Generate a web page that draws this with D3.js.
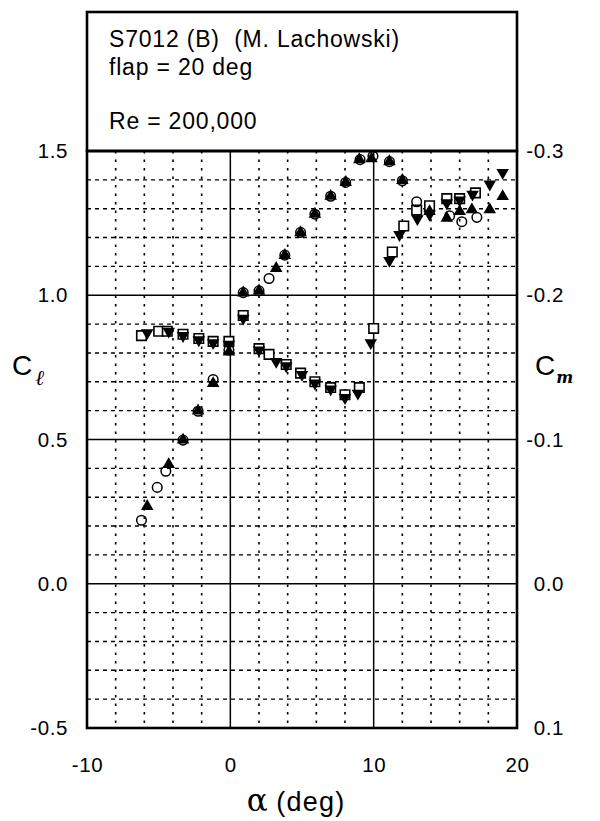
<!DOCTYPE html>
<html><head><meta charset="utf-8">
<script src="https://cdn.jsdelivr.net/npm/d3@7"></script>
<style>body{margin:0;background:#fff}</style>
</head><body>
<svg id="c" width="600" height="821"></svg>
<script>
// ---- data ----
const titleLines = ["S7012 (B)  (M. Lachowski)", "flap = 20 deg", "Re = 200,000"];
const xTicks = [-10, 0, 10, 20];
const clTicks = [-0.5, 0.0, 0.5, 1.0, 1.5];
const cmTicks = [0.1, 0.0, -0.1, -0.2, -0.3];
// Cl, open circles
const clCircAlpha = [-6.2,-5.1,-4.5,-3.3,-2.25,-1.2,-0.1,0.9,2.0,2.7,3.8,4.9,5.9,7.0,8.05,9.05,9.95,11.1,12.0,13.0,15.3,16.15,17.2];
const clCircVal   = [0.22,0.334,0.39,0.498,0.598,0.708,0.81,1.009,1.015,1.058,1.139,1.218,1.281,1.343,1.391,1.47,1.482,1.463,1.397,1.324,1.275,1.255,1.27];
// Cl, filled up-triangles
const clTriAlpha = [-5.8,-4.3,-3.3,-2.25,-1.2,-0.1,0.9,2.0,3.2,3.8,4.9,5.9,7.0,8.05,9.0,9.85,11.1,12.0,13.9,15.1,16.0,16.85,18.1,19.0];
const clTriVal   = [0.265,0.41,0.495,0.596,0.691,0.80,1.005,1.012,1.09,1.135,1.214,1.278,1.34,1.388,1.467,1.47,1.46,1.395,1.287,1.264,1.287,1.293,1.293,1.339];
// Cm, open squares
const cmSqAlpha = [-6.2,-5.0,-4.4,-3.3,-2.2,-1.2,-0.1,0.9,2.0,2.7,3.9,4.9,5.9,7.0,8.0,9.0,10.0,11.3,12.1,13.0,13.9,15.1,16.0,17.1];
const cmSqVal   = [-0.172,-0.175,-0.175,-0.173,-0.170,-0.168,-0.168,-0.186,-0.163,-0.159,-0.152,-0.146,-0.140,-0.136,-0.131,-0.136,-0.177,-0.230,-0.248,-0.259,-0.262,-0.267,-0.267,-0.271];
// Cm, filled down-triangles
const cmTriAlpha = [-5.8,-4.3,-3.3,-2.2,-1.2,-0.1,0.9,2.0,3.2,3.9,5.0,5.9,7.0,8.0,8.9,9.8,11.1,11.8,13.05,13.9,15.1,16.0,16.9,18.1,19.0];
const cmTriVal   = [-0.174,-0.175,-0.172,-0.169,-0.167,-0.166,-0.184,-0.162,-0.154,-0.151,-0.145,-0.139,-0.135,-0.129,-0.132,-0.167,-0.224,-0.242,-0.253,-0.256,-0.264,-0.266,-0.270,-0.277,-0.285];

// ---- layout ----
const L = 87, R = 517, T = 151, B = 728, boxTop = 12;
const FONT = "'Liberation Sans', Arial, sans-serif";
const svg = d3.select("#c");
const x = d3.scaleLinear().domain([-10, 20]).range([L, R]);
const y = d3.scaleLinear().domain([-0.5, 1.5]).range([B, T]);
const y2 = d3.scaleLinear().domain([0.1, -0.3]).range([B, T]);
const hy = s => s.replace("\u2212", "-");

// grid
const g = svg.append("g");
d3.range(-8, 20, 2).forEach(v => {
  if (v === 0 || v === 10) return;
  g.append("line").attr("x1", x(v)).attr("x2", x(v)).attr("y1", T).attr("y2", B)
    .attr("stroke", "#000").attr("stroke-width", 1.6).attr("stroke-dasharray", "2.5,6");
});
d3.range(-4, 15, 1).forEach(k => {
  if (k % 5 === 0) return;
  const v = k / 10;
  g.append("line").attr("x1", L).attr("x2", R).attr("y1", y(v)).attr("y2", y(v))
    .attr("stroke", "#000").attr("stroke-width", 1.4).attr("stroke-dasharray", "4,4");
});
[0, 10].forEach(v => g.append("line").attr("x1", x(v)).attr("x2", x(v)).attr("y1", T).attr("y2", B)
  .attr("stroke", "#000").attr("stroke-width", 1.5));
[0, 0.5, 1.0].forEach(v => g.append("line").attr("x1", L).attr("x2", R).attr("y1", y(v)).attr("y2", y(v))
  .attr("stroke", "#000").attr("stroke-width", 1.5));

// axes (labels only, using d3 axes)
const ax = svg.append("g").attr("transform", `translate(0,${B})`)
  .call(d3.axisBottom(x).tickValues(xTicks).tickSize(0).tickPadding(29).tickFormat(d => hy(d3.format("d")(d))));
const ayl = svg.append("g").attr("transform", `translate(${L - 19},0)`)
  .call(d3.axisLeft(y).tickValues(clTicks).tickSize(0).tickPadding(0).tickFormat(d => hy(d3.format(".1f")(d))));
const ayr = svg.append("g").attr("transform", `translate(564,0)`)
  .call(d3.axisLeft(y2).tickValues(cmTicks).tickSize(0).tickPadding(0).tickFormat(d => hy(d3.format(".1f")(d === 0 ? 0 : d))));
[ax, ayl, ayr].forEach(a => {
  a.select(".domain").remove();
  a.selectAll("text").attr("font-family", FONT).attr("font-size", 20.5).attr("fill", "#000")
    .style("letter-spacing", "0.6px");
});

// frames
svg.append("rect").attr("x", L).attr("y", T).attr("width", R - L).attr("height", B - T)
  .attr("fill", "none").attr("stroke", "#000").attr("stroke-width", 2.6);
svg.append("rect").attr("x", L).attr("y", boxTop).attr("width", R - L).attr("height", T - boxTop)
  .attr("fill", "none").attr("stroke", "#000").attr("stroke-width", 2.6);

// title
const tys = [47, 75, 129];
titleLines.forEach((t, i) => svg.append("text").attr("x", 109).attr("y", tys[i])
  .attr("font-family", FONT).attr("font-size", 23).style("letter-spacing", "0.8px")
  .style("white-space", "pre").attr("xml:space", "preserve").text(t));

// axis titles
const ax1 = svg.append("text").attr("x", 296).attr("y", 811).attr("text-anchor", "middle")
  .attr("font-family", FONT).attr("font-size", 27);
ax1.append("tspan").attr("font-family", "'DejaVu Serif', serif").attr("font-size", 31).text("α");
ax1.append("tspan").style("letter-spacing", "1.2px").style("white-space", "pre").text(" (deg)");

const cl = svg.append("text").attr("x", 12).attr("y", 375).attr("font-family", FONT).attr("font-size", 28);
cl.append("tspan").text("C");
cl.append("tspan").attr("font-family", "'DejaVu Serif', serif").attr("font-style", "italic")
  .attr("font-size", 21).attr("dy", 10).attr("dx", 3).text("ℓ");
const cm = svg.append("text").attr("x", 535).attr("y", 375).attr("font-family", FONT).attr("font-size", 28);
cm.append("tspan").text("C");
cm.append("tspan").attr("font-family", "'DejaVu Serif', serif").attr("font-style", "italic").attr("font-weight", "bold")
  .attr("font-size", 16).attr("dy", 8).attr("dx", 1).text("m");

// markers
const pts = (a, v) => a.map((d, i) => ({a: d, v: v[i]}));
const sqSym = d3.symbol().type(d3.symbolSquare).size(90);
const triSym = d3.symbol().type(d3.symbolTriangle).size(68);
const mk = svg.append("g");
mk.selectAll(".sq").data(pts(cmSqAlpha, cmSqVal)).join("path")
  .attr("d", sqSym).attr("transform", d => `translate(${x(d.a)},${y2(d.v)})`)
  .attr("fill", "#fff").attr("stroke", "#000").attr("stroke-width", 1.6);
mk.selectAll(".dt").data(pts(cmTriAlpha, cmTriVal)).join("path")
  .attr("d", triSym).attr("transform", d => `translate(${x(d.a)},${y2(d.v)}) rotate(180)`)
  .attr("fill", "#000");
mk.selectAll(".ut").data(pts(clTriAlpha, clTriVal)).join("path")
  .attr("d", triSym).attr("transform", d => `translate(${x(d.a)},${y(d.v) - 1})`)
  .attr("fill", "#000");
mk.selectAll(".ci").data(pts(clCircAlpha, clCircVal)).join("circle")
  .attr("cx", d => x(d.a)).attr("cy", d => y(d.v)).attr("r", 4.8)
  .attr("fill", "none").attr("stroke", "#000").attr("stroke-width", 1.5);
</script>
</body></html>
